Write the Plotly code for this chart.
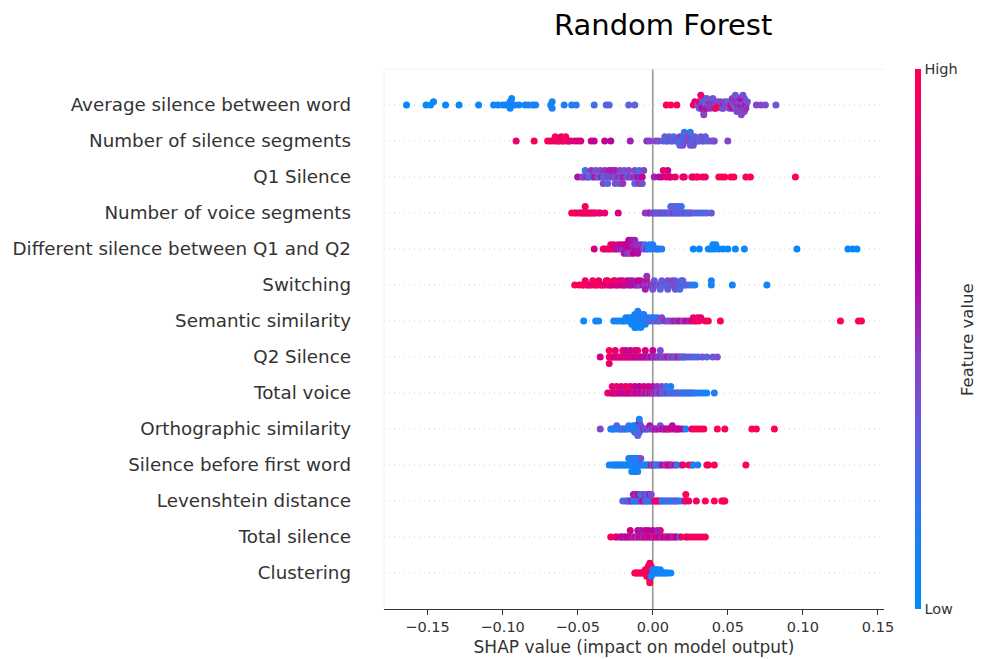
import numpy as np
import plotly.graph_objects as go

# ---------------- data (SHAP value, normalised feature value) ----------------
features = [
    "Average silence between word",
    "Number of silence segments",
    "Q1 Silence",
    "Number of voice segments",
    "Different silence between Q1 and Q2",
    "Switching",
    "Semantic similarity",
    "Q2 Silence",
    "Total voice",
    "Orthographic similarity",
    "Silence before first word",
    "Levenshtein distance",
    "Total silence",
    "Clustering",
]

avg_silence_between_word = [
    (-0.164,0.02),(-0.151,0.04),(-0.148,0.04),(-0.146,0.05),(-0.138,0.05),(-0.129,0.05),(-0.116,0.06),
    (-0.106,0.06),(-0.103,0.07),(-0.100,0.08),(-0.098,0.08),(-0.096,0.07),(-0.095,0.09),(-0.095,0.06),
    (-0.094,0.08),(-0.092,0.1),(-0.089,0.08),(-0.085,0.1),(-0.083,0.12),(-0.080,0.1),(-0.078,0.12),
    (-0.068,0.12),(-0.067,0.1),(-0.067,0.14),(-0.059,0.15),(-0.054,0.15),(-0.051,0.18),(-0.039,0.25),
    (-0.031,0.28),(-0.029,0.3),(-0.016,0.3),(-0.012,0.32),
    (0.009,1.0),(0.012,1.0),(0.016,0.98),(0.027,0.95),(0.028,0.85),(0.030,0.4),(0.031,0.95),(0.031,0.35),
    (0.032,0.5),(0.033,0.42),(0.033,0.7),(0.034,0.35),(0.034,0.55),(0.035,0.45),(0.035,0.3),(0.036,0.6),
    (0.037,0.4),(0.038,0.85),(0.039,0.38),(0.040,0.5),(0.041,0.35),(0.042,0.45),(0.043,0.4),(0.044,0.9),
    (0.045,0.45),(0.046,0.35),(0.047,0.55),(0.048,0.4),(0.049,0.5),(0.050,0.3),(0.051,0.45),(0.052,0.95),
    (0.053,0.4),(0.053,0.6),(0.054,0.35),(0.055,0.5),(0.055,0.4),(0.056,0.3),(0.057,0.55),(0.057,0.45),
    (0.058,0.38),(0.059,0.7),(0.059,0.4),(0.060,0.5),(0.061,0.35),(0.061,0.45),(0.062,0.6),(0.063,0.4),
    (0.069,0.42),(0.072,0.45),(0.075,0.4),(0.082,0.35),
    (0.032,0.9),(0.034,0.45),(0.036,0.35),(0.038,0.5),(0.040,0.4),(0.042,0.95),(0.047,0.4),
    (0.053,0.5),(0.056,0.45),(0.058,0.6),(0.060,0.4),(0.062,0.5),(0.059,0.45),(0.055,0.35),
]

num_silence_segments = [
    (-0.091,0.9),(-0.079,0.95),(-0.070,0.98),(-0.068,0.95),(-0.066,0.9),(-0.065,1.0),(-0.064,0.95),
    (-0.063,0.9),(-0.062,0.98),(-0.061,0.85),(-0.060,0.95),(-0.059,0.9),(-0.058,1.0),(-0.057,0.95),
    (-0.056,0.9),(-0.055,0.85),(-0.052,0.85),(-0.050,0.8),(-0.048,0.8),(-0.041,0.75),(-0.039,0.7),
    (-0.032,0.7),(-0.028,0.65),(-0.015,0.55),(-0.004,0.5),(-0.002,0.45),(0.002,0.45),(0.004,0.4),
    (0.007,0.35),(0.008,0.3),(0.009,0.4),(0.010,0.2),(0.011,0.35),(0.012,0.45),(0.013,0.3),(0.014,0.25),
    (0.015,0.4),(0.016,0.35),(0.017,0.2),(0.018,0.45),(0.019,0.3),(0.020,0.15),(0.021,0.35),(0.022,0.4),
    (0.022,0.2),(0.023,0.3),(0.024,0.45),(0.024,0.15),(0.025,0.35),(0.026,0.25),(0.026,0.4),(0.027,0.2),
    (0.028,0.35),(0.029,0.3),(0.030,0.4),(0.031,0.25),(0.032,0.35),(0.033,0.3),(0.034,0.4),(0.035,0.35),
    (0.036,0.3),(0.038,0.4),(0.040,0.35),(0.041,0.4),(0.050,0.45),
    (0.018,0.25),(0.020,0.4),(0.021,0.2),(0.023,0.45),(0.025,0.2),(0.027,0.4),
]

q1_silence = [
    (-0.050,0.6),(-0.047,0.5),(-0.046,0.4),(-0.045,0.25),(-0.044,0.55),(-0.043,0.45),(-0.042,0.3),
    (-0.041,0.5),(-0.040,0.2),(-0.039,0.55),(-0.038,0.4),(-0.037,0.5),(-0.036,0.3),(-0.035,0.45),
    (-0.034,0.6),(-0.033,0.35),(-0.032,0.5),(-0.031,0.2),(-0.030,0.45),(-0.029,0.55),(-0.028,0.3),
    (-0.027,0.5),(-0.026,0.4),(-0.025,0.6),(-0.024,0.35),(-0.023,0.5),(-0.022,0.45),(-0.021,0.3),
    (-0.020,0.55),(-0.019,0.4),(-0.018,0.5),(-0.017,0.35),(-0.016,0.45),(-0.015,0.55),(-0.014,0.3),
    (-0.013,0.5),(-0.012,0.45),(-0.011,0.4),(-0.010,0.6),(-0.009,0.25),(-0.008,0.5),(-0.007,0.7),
    (-0.006,0.45),
    (-0.033,0.45),(-0.030,0.3),(-0.027,0.55),(-0.025,0.4),(-0.022,0.35),(-0.020,0.5),(-0.012,0.3),
    (-0.009,0.5),(-0.007,0.4),
    (0.001,0.55),(0.004,0.6),(0.006,0.7),(0.007,0.9),(0.009,0.85),(0.010,0.75),(0.011,0.95),(0.012,0.8),
    (0.015,0.9),(0.020,0.95),(0.021,0.9),(0.026,0.95),(0.027,0.85),(0.029,0.9),(0.030,1.0),(0.033,0.95),
    (0.035,0.9),(0.044,1.0),(0.046,0.95),(0.048,1.0),(0.052,0.98),(0.054,0.95),(0.062,1.0),(0.065,1.0),
    (0.095,1.0),
]

num_voice_segments = [
    (-0.054,1.0),(-0.052,0.95),(-0.051,1.0),(-0.049,0.9),(-0.048,0.95),(-0.047,1.0),(-0.046,0.9),
    (-0.045,0.85),(-0.045,0.95),(-0.044,0.9),(-0.043,1.0),(-0.042,0.85),(-0.041,0.95),(-0.040,0.9),
    (-0.039,0.85),(-0.038,0.9),(-0.036,0.95),(-0.035,0.85),(-0.032,0.9),(-0.023,0.8),
    (-0.005,0.5),(-0.003,0.45),(-0.002,0.55),(0.000,0.35),(0.001,0.5),(0.002,0.4),(0.003,0.2),
    (0.004,0.45),(0.005,0.3),(0.006,0.5),(0.007,0.15),(0.008,0.4),(0.009,0.35),(0.010,0.45),(0.011,0.2),
    (0.012,0.4),(0.013,0.3),(0.014,0.5),(0.015,0.35),(0.016,0.2),(0.017,0.45),(0.018,0.3),(0.019,0.4),
    (0.020,0.25),(0.021,0.35),(0.022,0.4),(0.023,0.2),(0.024,0.35),(0.025,0.3),(0.026,0.4),(0.028,0.25),
    (0.030,0.35),(0.032,0.3),(0.034,0.25),(0.036,0.3),(0.039,0.35),
    (0.013,0.4),(0.015,0.25),(0.017,0.35),(0.019,0.2),(0.012,0.3),
]

diff_silence_q1_q2 = [
    (-0.039,0.8),(-0.033,0.9),(-0.032,0.95),(-0.030,0.85),(-0.029,0.9),(-0.028,1.0),(-0.027,0.85),
    (-0.026,0.75),(-0.025,0.9),(-0.024,0.6),(-0.023,0.8),(-0.022,0.55),(-0.021,0.7),(-0.020,0.5),
    (-0.019,0.65),(-0.018,0.55),(-0.017,0.6),(-0.016,0.5),(-0.015,0.7),(-0.014,0.55),(-0.013,0.6),
    (-0.012,0.5),(-0.011,0.65),(-0.010,0.55),(-0.009,0.45),(-0.008,0.6),(-0.007,0.5),(-0.006,0.35),
    (-0.005,0.2),(-0.004,0.55),(-0.003,0.15),(-0.002,0.2),(-0.001,0.1),(0.000,0.15),(0.002,0.1),
    (0.003,0.3),(0.004,0.1),(0.006,0.15),
    (-0.019,0.6),(-0.017,0.5),(-0.016,0.65),(-0.015,0.45),(-0.014,0.6),(-0.013,0.7),(-0.012,0.55),
    (-0.018,0.7),(-0.011,0.5),(-0.010,0.6),
    (0.027,0.05),(0.031,0.05),(0.037,0.05),(0.039,0.08),(0.040,0.05),(0.041,0.06),(0.042,0.05),
    (0.044,0.06),(0.047,0.05),(0.050,0.05),(0.055,0.06),(0.061,0.05),(0.096,0.04),(0.130,0.03),
    (0.133,0.03),(0.136,0.03),
]

switching = [
    (-0.052,1.0),(-0.049,0.95),(-0.047,1.0),(-0.046,0.95),(-0.045,0.9),(-0.044,1.0),(-0.043,0.95),
    (-0.042,0.9),(-0.041,0.85),(-0.040,1.0),(-0.039,0.95),(-0.038,0.9),(-0.037,0.95),(-0.036,0.85),
    (-0.035,1.0),(-0.034,0.9),(-0.033,0.95),(-0.032,0.85),(-0.031,0.9),(-0.030,0.8),(-0.029,0.95),
    (-0.028,0.85),(-0.027,0.75),(-0.026,0.9),(-0.025,0.8),(-0.024,0.7),(-0.023,0.85),(-0.022,0.65),
    (-0.021,0.8),(-0.020,0.7),(-0.019,0.6),(-0.018,0.75),(-0.017,0.65),(-0.016,0.55),(-0.015,0.7),
    (-0.014,0.6),(-0.013,0.5),(-0.012,0.65),(-0.011,0.55),(-0.010,0.6),(-0.009,0.45),(-0.008,0.55),
    (-0.007,0.5),(-0.006,0.6),(-0.005,0.45),(-0.004,0.85),(-0.003,0.5),(-0.002,0.4),(-0.001,0.55),
    (0.000,0.45),(0.001,0.35),(0.002,0.5),(0.003,0.4),(0.004,0.3),(0.005,0.45),(0.006,0.35),(0.007,0.2),
    (0.008,0.4),(0.009,0.3),(0.010,0.45),(0.011,0.2),(0.012,0.35),(0.013,0.3),(0.014,0.4),(0.015,0.15),
    (0.016,0.35),(0.017,0.25),(0.018,0.4),(0.019,0.3),(0.020,0.2),(0.021,0.35),(0.022,0.25),(0.024,0.3),
    (0.026,0.2),(0.028,0.15),(0.039,0.1),(0.039,0.12),(0.053,0.1),(0.076,0.08),
    (-0.030,0.95),(-0.025,0.9),(-0.020,0.85),(-0.015,0.6),(-0.010,0.7),(-0.005,0.55),(0.000,0.4),
    (0.005,0.3),(0.010,0.35),(0.015,0.4),(0.020,0.3),(-0.004,0.5),(0.013,0.45),(0.018,0.25),
]

semantic_similarity = [
    (-0.046,0.05),(-0.038,0.06),(-0.036,0.05),(-0.026,0.08),(-0.024,0.06),(-0.022,0.1),(-0.020,0.08),
    (-0.019,0.05),(-0.018,0.1),(-0.017,0.12),(-0.016,0.08),(-0.015,0.06),(-0.014,0.1),(-0.013,0.15),
    (-0.013,0.08),(-0.012,0.1),(-0.012,0.06),(-0.011,0.12),(-0.011,0.08),(-0.010,0.1),(-0.010,0.05),
    (-0.009,0.15),(-0.009,0.08),(-0.008,0.1),(-0.008,0.2),(-0.007,0.12),(-0.007,0.06),(-0.006,0.1),
    (-0.005,0.15),(-0.005,0.08),(-0.004,0.2),(-0.003,0.12),(-0.002,0.25),(-0.001,0.15),(0.000,0.3),
    (0.001,0.2),(0.002,0.35),(0.003,0.15),(0.004,0.4),(0.005,0.3),(0.006,0.45),(0.008,0.5),(0.010,0.4),
    (0.012,0.45),(0.014,0.55),(0.016,0.5),(0.018,0.6),(0.020,0.45),(0.022,0.75),(0.024,0.55),(0.026,0.8),
    (0.027,0.9),(0.028,0.95),(0.029,0.85),(0.030,0.9),(0.031,1.0),(0.032,0.85),(0.035,0.9),(0.037,0.95),
    (0.045,1.0),(0.125,1.0),(0.137,0.98),(0.139,1.0),
    (-0.012,0.12),(-0.011,0.05),(-0.010,0.15),(-0.009,0.1),(-0.008,0.05),(-0.014,0.06),(-0.006,0.15),
]

q2_silence = [
    (-0.035,0.75),(-0.029,0.9),(-0.029,1.0),(-0.029,0.85),(-0.028,0.95),(-0.027,0.8),(-0.026,0.9),
    (-0.025,0.7),(-0.024,0.95),(-0.023,0.8),(-0.022,0.9),(-0.021,0.75),(-0.020,0.85),(-0.019,0.7),
    (-0.018,0.9),(-0.017,0.8),(-0.016,0.75),(-0.015,0.85),(-0.014,0.7),(-0.013,0.9),(-0.012,0.65),
    (-0.011,0.8),(-0.010,0.7),(-0.009,0.6),(-0.008,0.85),(-0.007,0.65),(-0.006,0.75),(-0.005,0.55),
    (-0.004,0.7),(-0.003,0.6),(-0.002,0.5),(-0.001,0.65),(0.000,0.55),(0.001,0.45),(0.002,0.6),
    (0.003,0.5),(0.004,0.4),(0.005,0.55),(0.006,0.45),(0.007,0.35),(0.008,0.5),(0.009,0.4),(0.010,0.85),
    (0.011,0.45),(0.012,0.35),(0.013,0.5),(0.014,0.4),(0.015,0.3),(0.016,0.45),(0.017,0.8),(0.018,0.35),
    (0.019,0.4),(0.020,0.3),(0.021,0.25),(0.022,0.35),(0.024,0.3),(0.026,0.35),(0.028,0.25),(0.030,0.3),
    (0.033,0.35),(0.036,0.3),(0.040,0.35),(0.043,0.4),
    (-0.025,0.85),(-0.020,0.95),(-0.015,0.7),(-0.010,0.9),(-0.005,0.8),(0.000,0.7),(0.005,0.4),
    (-0.018,0.75),(-0.012,0.8),
]

total_voice = [
    (-0.030,0.9),(-0.028,0.8),(-0.027,0.95),(-0.026,0.7),(-0.025,0.85),(-0.024,0.6),(-0.023,0.9),
    (-0.022,0.75),(-0.021,0.65),(-0.020,0.85),(-0.019,0.7),(-0.018,0.6),(-0.017,0.9),(-0.016,0.75),
    (-0.015,0.65),(-0.014,0.8),(-0.013,0.55),(-0.012,0.95),(-0.011,0.7),(-0.010,0.6),(-0.009,0.85),
    (-0.008,0.55),(-0.007,0.75),(-0.006,0.5),(-0.005,0.85),(-0.004,0.6),(-0.003,0.45),(-0.002,0.7),
    (-0.001,0.5),(0.000,0.95),(0.001,0.4),(0.002,0.55),(0.003,0.3),(0.004,0.45),(0.005,0.6),(0.006,0.25),
    (0.007,0.4),(0.008,0.15),(0.009,0.35),(0.010,0.5),(0.011,0.2),(0.012,0.3),(0.013,0.1),(0.014,0.35),
    (0.015,0.2),(0.016,0.4),(0.017,0.15),(0.018,0.3),(0.019,0.2),(0.020,0.35),(0.021,0.1),(0.022,0.25),
    (0.023,0.15),(0.024,0.2),(0.025,0.35),(0.026,0.1),(0.027,0.25),(0.028,0.15),(0.030,0.2),(0.032,0.1),
    (0.034,0.15),(0.036,0.1),(0.041,0.15),
    (-0.027,0.85),(-0.024,0.9),(-0.021,0.8),(-0.018,0.85),(-0.015,0.9),(-0.012,0.7),(-0.009,0.65),
    (-0.006,0.8),(-0.003,0.75),(0.000,0.6),(0.003,0.5),(0.006,0.45),(0.009,0.2),(0.012,0.15),
]

orthographic_similarity = [
    (-0.035,0.45),(-0.028,0.1),(-0.027,0.2),(-0.026,0.1),(-0.025,0.15),(-0.024,0.3),(-0.023,0.1),
    (-0.022,0.2),(-0.021,0.35),(-0.020,0.1),(-0.019,0.15),(-0.018,0.4),(-0.017,0.1),(-0.016,0.25),
    (-0.015,0.15),(-0.014,0.05),(-0.013,0.35),(-0.012,0.1),(-0.012,0.2),(-0.011,0.05),(-0.011,0.4),
    (-0.010,0.15),(-0.010,0.1),(-0.009,0.3),(-0.009,0.6),(-0.008,0.1),(-0.008,0.45),(-0.007,0.2),
    (-0.006,0.55),(-0.005,0.15),(-0.004,0.5),(-0.003,0.4),(-0.002,0.6),(-0.001,0.35),(0.000,0.55),
    (0.001,0.45),(0.002,0.65),(0.003,0.5),(0.004,0.6),(0.005,0.4),(0.006,0.55),(0.007,0.7),(0.008,0.5),
    (0.009,0.65),(0.010,0.8),(0.011,0.55),(0.012,0.75),(0.013,0.6),(0.014,0.85),(0.015,0.7),(0.016,0.6),
    (0.017,0.8),(0.018,0.65),(0.020,0.7),(0.022,0.1),(0.026,0.9),(0.028,1.0),(0.030,0.95),(0.032,1.0),
    (0.034,0.95),(0.043,1.0),(0.048,0.98),(0.066,1.0),(0.069,1.0),(0.081,1.0),
    (-0.012,0.15),(-0.011,0.25),(-0.013,0.05),(-0.010,0.3),(-0.009,0.1),
]

silence_before_first_word = [
    (-0.029,0.1),(-0.027,0.05),(-0.026,0.15),(-0.025,0.1),(-0.024,0.05),(-0.023,0.1),(-0.022,0.2),
    (-0.021,0.05),(-0.020,0.1),(-0.019,0.15),(-0.018,0.05),(-0.017,0.1),(-0.016,0.05),(-0.016,0.2),
    (-0.015,0.1),(-0.015,0.05),(-0.014,0.1),(-0.014,0.15),(-0.013,0.05),(-0.013,0.1),(-0.012,0.08),
    (-0.012,0.3),(-0.011,0.05),(-0.011,0.12),(-0.010,0.1),(-0.010,0.05),(-0.009,0.15),(-0.009,0.08),
    (-0.008,0.1),(-0.008,0.4),(-0.007,0.05),(-0.006,0.15),(-0.005,0.1),(-0.004,0.2),(-0.003,0.1),
    (-0.002,0.15),(-0.001,0.9),(0.000,0.1),(0.001,0.95),(0.002,0.15),(0.003,0.2),(0.004,0.1),(0.005,0.25),
    (0.006,0.55),(0.008,0.7),(0.009,0.3),(0.010,0.85),(0.011,0.6),(0.012,0.9),(0.013,0.5),(0.015,0.75),
    (0.016,0.2),(0.019,0.15),(0.020,0.9),(0.024,0.95),(0.026,1.0),(0.027,0.1),(0.030,0.15),(0.036,1.0),
    (0.037,0.95),(0.041,1.0),(0.062,1.0),
    (-0.012,0.1),(-0.011,0.2),(-0.013,0.15),(-0.010,0.15),(-0.014,0.05),
]

levenshtein_distance = [
    (-0.020,0.3),(-0.018,0.2),(-0.017,0.45),(-0.016,0.1),(-0.015,0.35),(-0.014,0.6),(-0.013,0.2),
    (-0.013,0.5),(-0.012,0.15),(-0.012,0.7),(-0.011,0.3),(-0.011,0.45),(-0.010,0.1),(-0.010,0.6),
    (-0.009,0.25),(-0.009,0.8),(-0.008,0.4),(-0.008,0.15),(-0.007,0.55),(-0.007,0.3),(-0.006,0.65),
    (-0.006,0.2),(-0.005,0.35),(-0.005,0.5),(-0.004,0.1),(-0.004,0.45),(-0.003,0.3),(-0.003,0.15),
    (-0.002,0.25),(-0.002,0.6),(-0.001,0.1),(-0.001,0.4),(0.000,0.2),(0.001,0.95),(0.002,0.9),(0.003,0.85),
    (0.004,0.95),(0.005,0.9),(0.006,0.15),(0.007,0.25),(0.008,0.1),(0.009,0.3),(0.010,0.2),(0.011,0.15),
    (0.012,0.35),(0.013,0.25),(0.014,0.1),(0.015,0.3),(0.016,0.4),(0.017,0.2),(0.019,0.15),(0.021,0.5),
    (0.022,0.95),(0.022,1.0),(0.024,0.9),(0.029,0.95),(0.035,1.0),(0.041,1.0),(0.046,0.98),(0.047,1.0),
    (0.048,0.95),
]

total_silence = [
    (-0.028,0.95),(-0.025,0.9),(-0.024,0.85),(-0.022,0.7),(-0.021,0.8),(-0.020,0.6),(-0.019,0.75),
    (-0.018,0.55),(-0.017,0.65),(-0.016,0.8),(-0.015,0.6),(-0.014,0.7),(-0.013,0.5),(-0.012,0.95),
    (-0.011,0.6),(-0.010,0.45),(-0.009,0.7),(-0.008,0.55),(-0.007,0.8),(-0.006,0.5),(-0.005,0.65),
    (-0.004,0.9),(-0.003,0.55),(-0.002,0.75),(-0.001,0.6),(0.000,0.85),(0.001,0.5),(0.002,0.7),
    (0.003,0.95),(0.004,0.6),(0.005,0.75),(0.006,0.5),(0.007,0.85),(0.008,0.65),(0.009,0.55),(0.010,0.8),
    (0.011,0.6),(0.012,0.7),(0.013,0.85),(0.014,0.5),(0.015,0.95),(0.016,0.65),(0.018,0.05),(0.019,0.9),
    (0.022,0.95),(0.023,0.9),(0.025,0.95),(0.027,1.0),(0.029,0.9),(0.031,0.95),(0.033,1.0),(0.035,0.95),
    (-0.015,0.75),(-0.010,0.7),(-0.005,0.8),(0.000,0.65),(0.005,0.9),(-0.008,0.6),(0.003,0.55),
    (-0.003,0.7),
]

clustering = [
    (-0.012,0.95),(-0.011,1.0),(-0.010,0.9),(-0.009,1.0),(-0.008,0.95),(-0.007,1.0),(-0.006,0.9),
    (-0.005,1.0),(-0.005,0.95),(-0.004,1.0),(-0.004,0.9),(-0.004,0.95),(-0.003,1.0),(-0.003,0.95),
    (-0.003,1.0),(-0.003,0.9),(-0.002,0.9),(-0.002,1.0),(-0.002,0.95),(-0.002,1.0),(-0.002,0.9),
    (-0.002,0.95),(-0.002,1.0),(-0.001,1.0),(-0.001,0.95),(-0.001,0.1),(-0.001,1.0),
    (0.000,0.05),(0.000,0.1),(0.001,0.05),(0.001,0.1),(0.002,0.05),(0.002,0.1),(0.003,0.1),(0.003,0.05),
    (0.004,0.1),(0.005,0.05),(0.005,0.1),(0.006,0.05),(0.007,0.1),(0.008,0.05),(0.009,0.1),(0.010,0.05),
    (0.012,0.05),
]

rows = [
    avg_silence_between_word, num_silence_segments, q1_silence, num_voice_segments,
    diff_silence_q1_q2, switching, semantic_similarity, q2_silence, total_voice,
    orthographic_similarity, silence_before_first_word, levenshtein_distance,
    total_silence, clustering,
]

colorscale = [
    [0.0, "#008bfb"], [0.15, "#1f7ef4"], [0.3, "#5a63df"], [0.45, "#8545c9"],
    [0.55, "#a21fb3"], [0.65, "#b8009f"], [0.8, "#d8007f"], [1.0, "#ff0052"],
]


# ---------------- beeswarm layout (same approach as shap) ----------------
def swarm_offsets(vals, row_height=0.4, nbins=100):
    s = np.asarray(vals, dtype=float)
    n = len(s)
    quant = np.round(nbins * (s - s.min()) / (s.max() - s.min() + 1e-8))
    inds = np.argsort(quant, kind="stable")
    ys = np.zeros(n)
    layer = 0
    last = -1
    for ind in inds:
        if quant[ind] != last:
            layer = 0
        ys[ind] = np.ceil(layer / 2) * ((layer % 2) * 2 - 1)
        layer += 1
        last = quant[ind]
    mx = np.max(ys + 1)
    ys *= 0.9 * (row_height / mx)
    return ys


n_feat = len(features)
xs, ys, cs = [], [], []
for i, pts in enumerate(rows):
    pos = n_feat - 1 - i
    sv = [p[0] for p in pts]
    fv = [p[1] for p in pts]
    off = swarm_offsets(sv)
    xs.extend(sv)
    ys.extend(list(pos + off))
    cs.extend(fv)

# the page body has an 8px margin; work in page pixels and subtract it
OFF = 8
W, H = 984 - OFF, 659 - OFF
L, R, T, B = 384 - OFF, 884 - OFF, 69 - OFF, 609 - OFF
pw, ph = R - L, B - T

fig = go.Figure()

fig.add_trace(go.Scatter(
    x=xs, y=ys, mode="markers",
    marker=dict(
        size=7, color=cs, colorscale=colorscale, cmin=0, cmax=1,
        line=dict(width=0), opacity=1,
        showscale=True,
        colorbar=dict(
            thickness=6, lenmode="fraction", len=1.0,
            x=(915 - OFF - L) / pw, xanchor="left", xpad=0,
            y=0.5, yanchor="middle", ypad=0,
            outlinewidth=0, tickvals=[0, 1], ticktext=["Low", "High"], ticks="",
            tickfont=dict(size=14.5, color="#333333"),
        ),
    ),
    hoverinfo="skip", showlegend=False,
))

shapes = []
for k in range(n_feat):
    shapes.append(dict(type="line", xref="paper", x0=0, x1=1, yref="y", y0=k, y1=k,
                       line=dict(color="#cccccc", width=0.8, dash="1px,4px"), layer="below"))
shapes.append(dict(type="line", xref="x", x0=0, x1=0, yref="paper", y0=0, y1=1,
                   line=dict(color="#999999", width=1.6), layer="below"))
shapes.append(dict(type="line", xref="paper", x0=0, x1=0, yref="paper", y0=0, y1=1,
                   line=dict(color="#f2f2f2", width=1), layer="below"))
shapes.append(dict(type="line", xref="paper", x0=0, x1=1, yref="paper", y0=1, y1=1,
                   line=dict(color="#f2f2f2", width=1), layer="below"))

xticks = [-0.15, -0.10, -0.05, 0.0, 0.05, 0.10, 0.15]
xticklabels = ["\u22120.15", "\u22120.10", "\u22120.05", "0.00", "0.05", "0.10", "0.15"]

fig.update_layout(
    width=W, height=H,
    margin=dict(l=L, r=W - R, t=T, b=H - B, autoexpand=False),
    paper_bgcolor="white", plot_bgcolor="white",
    font=dict(family="DejaVu Sans", color="#333333"),
    shapes=shapes,
    annotations=[
        dict(text="Random Forest", xref="paper", yref="paper",
             x=(663 - OFF - L) / pw, y=(B - (25 - OFF)) / ph, xanchor="center", yanchor="middle",
             showarrow=False, font=dict(size=29, color="black", family="DejaVu Sans")),
        dict(text="Feature value", xref="paper", yref="paper", textangle=-90,
             x=(968 - OFF - L) / pw, y=(B - (340 - OFF)) / ph, xanchor="center", yanchor="middle",
             showarrow=False, font=dict(size=16.5, color="#333333", family="DejaVu Sans")),
    ],
    xaxis=dict(
        range=[-0.179, 0.154], tickvals=xticks, ticktext=xticklabels,
        showgrid=False, zeroline=False, showline=True, linecolor="#333333", linewidth=1,
        ticks="outside", ticklen=4.5, tickcolor="#333333", tickwidth=1,
        tickfont=dict(size=14.5, color="#333333"), automargin=False,
        title=dict(text="SHAP value (impact on model output)", standoff=7,
                   font=dict(size=17, color="#333333")),
    ),
    yaxis=dict(
        range=[-1, n_feat], tickvals=list(range(n_feat)), ticktext=features[::-1],
        showgrid=False, zeroline=False, showline=False, ticks="",
        ticklabelstandoff=32, automargin=False,
        tickfont=dict(size=18.3, color="#333333"),
    ),
)

fig.write_html("out.html")
